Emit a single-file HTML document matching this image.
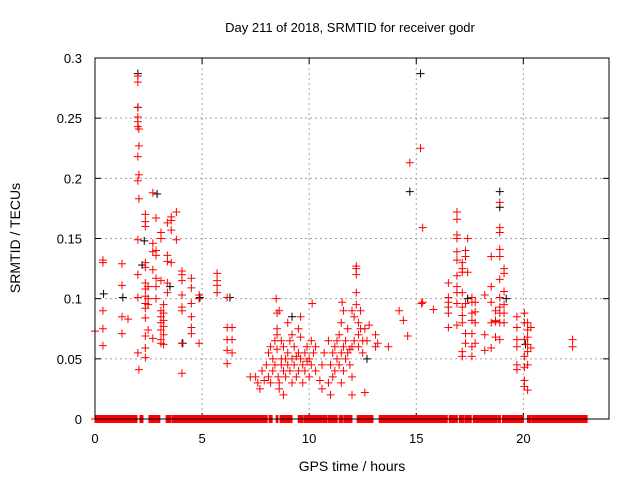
<!DOCTYPE html>
<html><head><meta charset="utf-8"><style>
body{margin:0;background:#fff}
svg{display:block;font-family:"Liberation Sans",sans-serif}
</style></head><body>
<svg id="chart" width="640" height="480" xmlns="http://www.w3.org/2000/svg">
<rect width="640" height="480" fill="#fff"/>
<text x="350" y="32" font-size="13" text-anchor="middle">Day 211 of 2018, SRMTID for receiver godr</text>
<text x="352" y="471" font-size="14" text-anchor="middle">GPS time / hours</text>
<text transform="translate(20,238) rotate(-90)" font-size="14" text-anchor="middle">SRMTID / TECUs</text>
<g id="grid"></g><g id="ticks"></g><g id="black"></g><g id="red"></g>
<rect x="95" y="58" width="514" height="361" fill="none" stroke="#000" stroke-width="1"/>
</svg>
<script>
const xTicks=[0,5,10,15,20];
const yTicks=[0,0.05,0.1,0.15,0.2,0.25,0.3];
const yTickLabels=["0","0.05","0.1","0.15","0.2","0.25","0.3"];
const zeroSegments=[[0,1.96],[2.1,2.24],[2.52,2.8],[2.85,3.04],[3.32,3.55],[3.6,8.04],[8.13,8.27],[8.46,8.55],[8.64,9.21],[9.49,9.72],[9.77,10.61],[10.65,10.84],[10.89,11.31],[11.4,11.59],[11.64,12.01],[12.24,12.99],[13.27,16.45],[16.54,16.92],[17.01,17.24],[17.29,17.57],[17.66,18.79],[18.83,18.93],[19.02,20.0],[20.19,20.37],[20.42,22.99]];
const blackPts=[[2.0,0.287],[2.0,0.259],[2.9,0.187],[2.3,0.148],[14.7,0.189],[15.2,0.287],[18.9,0.189],[18.9,0.176],[6.3,0.101],[0.4,0.104],[1.3,0.101],[4.1,0.063],[4.9,0.101],[2.2,0.128],[3.5,0.11],[19.2,0.1],[12.7,0.05],[9.2,0.085],[17.4,0.1],[20.1,0.062]];
const redPts=[[0,0.073],[0.37,0.132],[0.37,0.13],[0.37,0.09],[0.37,0.075],[0.37,0.061],[1.26,0.129],[1.26,0.111],[1.26,0.085],[1.26,0.071],[1.54,0.083],
[2.0,0.285],[2.0,0.28],[2.0,0.259],[2.0,0.251],[2.0,0.247],[2.0,0.243],[2.05,0.241],[2.05,0.227],[2.0,0.218],[2.05,0.203],[2.0,0.198],[2.05,0.183],[2.0,0.149],[2.0,0.12],[2.0,0.101],[2.0,0.055],[2.05,0.041],
[2.35,0.17],[2.35,0.164],[2.35,0.16],[2.35,0.13],[2.35,0.126],[2.35,0.113],[2.35,0.108],[2.35,0.102],[2.35,0.096],[2.35,0.092],[2.35,0.084],[2.35,0.069],[2.35,0.059],[2.35,0.051],
[2.48,0.11],[2.48,0.1],[2.48,0.095],[2.48,0.074],[2.7,0.188],[2.7,0.146],[2.7,0.139],[2.7,0.124],[2.7,0.067],
[2.85,0.167],[2.85,0.14],[2.85,0.136],[2.85,0.117],[2.85,0.11],[2.85,0.1],[3.08,0.155],[3.08,0.15],[3.08,0.115],[3.08,0.09],[3.08,0.085],[3.08,0.08],[3.08,0.074],[3.08,0.066],[3.08,0.063],
[3.2,0.095],[3.2,0.088],[3.2,0.082],[3.2,0.077],[3.2,0.07],[3.2,0.062],[3.38,0.163],[3.38,0.136],[3.38,0.131],[3.38,0.113],[3.38,0.105],[3.56,0.168],[3.56,0.165],[3.56,0.157],[3.56,0.13],
[3.8,0.172],[3.8,0.149],[4.06,0.123],[4.06,0.12],[4.06,0.115],[4.06,0.103],[4.06,0.093],[4.06,0.09],[4.06,0.063],[4.06,0.038],
[4.5,0.117],[4.5,0.109],[4.5,0.096],[4.5,0.085],[4.5,0.076],[4.5,0.071],[4.86,0.103],[4.86,0.1],[4.86,0.063],
[5.7,0.121],[5.7,0.115],[5.7,0.111],[5.7,0.105],[6.17,0.101],[6.17,0.076],[6.17,0.066],[6.17,0.057],[6.17,0.046],[6.4,0.076],[6.4,0.066],[6.4,0.055],[7.25,0.035],
[7.5,0.035],[7.6,0.03],[7.7,0.025],[7.8,0.04],[7.9,0.032],[8.0,0.045],[8.1,0.055],[8.1,0.035],[8.2,0.06],[8.2,0.03],[8.3,0.05],[8.3,0.04],[8.4,0.065],[8.4,0.045],[8.46,0.1],[8.5,0.088],[8.5,0.075],[8.5,0.07],[8.5,0.058],[8.55,0.035],[8.6,0.09],[8.6,0.03],[8.6,0.025],[8.7,0.05],[8.7,0.065],[8.7,0.045],[8.8,0.04],[8.8,0.06],[8.8,0.02],[8.9,0.05],[8.9,0.035],[9.0,0.055],[9.0,0.045],[9.0,0.08],[9.1,0.04],[9.1,0.065],[9.2,0.07],[9.2,0.05],[9.2,0.03],[9.3,0.045],[9.3,0.06],[9.4,0.052],[9.4,0.035],[9.5,0.075],[9.5,0.055],[9.5,0.04],[9.6,0.085],[9.6,0.05],[9.6,0.068],[9.7,0.045],[9.7,0.03],[9.8,0.055],[9.8,0.04],[9.9,0.06],[9.9,0.048],[10.0,0.05],[10.0,0.035],[10.1,0.065],[10.1,0.045],[10.14,0.096],[10.2,0.055],[10.3,0.04],[10.3,0.06],[10.5,0.032],[10.6,0.045],[10.7,0.055],[10.9,0.03],[10.6,0.025],
[11.0,0.045],[11.1,0.055],[11.1,0.035],[11.2,0.06],[11.2,0.04],[11.3,0.05],[11.3,0.065],[11.4,0.07],[11.4,0.045],[11.5,0.055],[11.5,0.08],[11.5,0.03],[11.54,0.097],[11.6,0.09],[11.6,0.06],[11.6,0.04],[11.7,0.065],[11.7,0.05],[11.8,0.075],[11.8,0.055],[11.9,0.058],[11.9,0.045],[12.0,0.06],[12.0,0.09],[12.0,0.02],[12.1,0.085],[12.1,0.065],[12.2,0.127],[12.2,0.125],[12.2,0.12],[12.2,0.105],[12.2,0.095],[12.3,0.08],[12.3,0.07],[12.3,0.06],[12.4,0.09],[12.4,0.075],[12.5,0.065],[12.5,0.055],[12.6,0.075],[12.7,0.065],[12.8,0.078],[12.6,0.022],[11.0,0.02],[10.9,0.065],[12.0,0.035],
[13.1,0.07],[13.1,0.06],[13.2,0.063],[13.7,0.06],[14.2,0.09],[14.4,0.082],[14.6,0.069],[14.7,0.213],[15.2,0.225],[15.3,0.159],[15.25,0.096],[15.3,0.097],[15.8,0.091],
[16.5,0.113],[16.5,0.101],[16.5,0.097],[16.5,0.093],[16.5,0.088],[16.5,0.076],[16.9,0.172],[16.9,0.166],[16.9,0.153],[16.9,0.15],[16.9,0.139],[16.9,0.132],[16.9,0.119],[16.9,0.11],[16.9,0.105],[16.9,0.096],[16.9,0.078],
[17.15,0.13],[17.15,0.125],[17.15,0.122],[17.15,0.105],[17.15,0.093],[17.15,0.086],[17.15,0.08],[17.15,0.056],[17.15,0.052],[17.3,0.14],[17.3,0.135],[17.3,0.096],[17.3,0.071],[17.3,0.063],[17.4,0.15],[17.4,0.122],
[17.6,0.101],[17.6,0.097],[17.6,0.088],[17.6,0.082],[17.6,0.071],[17.6,0.06],[17.6,0.052],[17.75,0.097],[17.75,0.089],[17.75,0.08],[17.75,0.063],[18.2,0.103],[18.2,0.07],[18.2,0.057],
[18.5,0.135],[18.5,0.11],[18.5,0.097],[18.5,0.08],[18.5,0.059],[18.7,0.09],[18.7,0.082],[18.7,0.081],[18.7,0.068],[18.9,0.18],[18.9,0.159],[18.9,0.155],[18.9,0.141],[18.9,0.135],[18.9,0.116],[18.9,0.101],[18.9,0.093],[18.9,0.088],[18.9,0.08],[18.9,0.066],
[19.1,0.125],[19.1,0.121],[19.1,0.106],[19.1,0.095],[19.1,0.088],[19.1,0.08],[19.7,0.085],[19.7,0.076],[19.7,0.066],[19.7,0.06],[19.7,0.045],[19.7,0.041],
[20.05,0.088],[20.05,0.08],[20.05,0.066],[20.05,0.052],[20.05,0.043],[20.05,0.032],[20.05,0.027],[20.2,0.08],[20.2,0.074],[20.2,0.068],[20.2,0.062],[20.2,0.056],[20.2,0.045],[20.2,0.024],[20.35,0.076],[20.35,0.059],[22.3,0.066],[22.3,0.06]];
const X0=95,X1=609,Y0=419,Y1=58;
const xs=h=>X0+h*(X1-X0)/24;
const ys=v=>Y0-v*(Y0-Y1)/0.3;
const NS="http://www.w3.org/2000/svg";
function mk(t,parent,attrs){const e=document.createElementNS(NS,t);for(const k in attrs)e.setAttribute(k,attrs[k]);parent.appendChild(e);return e;}
const grid=document.getElementById('grid'),ticks=document.getElementById('ticks');
xTicks.forEach((t,i)=>{const x=xs(t);
 if(t>0){const g=mk('line',grid,{x1:x,x2:x,y1:Y1,y2:Y0,stroke:'#a0a0a0','stroke-dasharray':'2,3'});
 
 }
 mk('line',ticks,{x1:x,x2:x,y1:Y0,y2:Y0-6,stroke:'#000'});mk('line',ticks,{x1:x,x2:x,y1:Y1,y2:Y1+6,stroke:'#000'});
 const l=mk('text',ticks,{x:x,y:443,'font-size':13,'text-anchor':'middle'});l.textContent=String(t);
 
 });
yTicks.forEach((t,i)=>{const y=ys(t);
 if(t>0&&t<0.3){const g=mk('line',grid,{x1:X0,x2:X1,y1:y,y2:y,stroke:'#a0a0a0','stroke-dasharray':'2,3'});
 
 }
 mk('line',ticks,{x1:X0,x2:X0+6,y1:y,y2:y,stroke:'#000'});mk('line',ticks,{x1:X1,x2:X1-6,y1:y,y2:y,stroke:'#000'});
 const l=mk('text',ticks,{x:82,y:y+5,'font-size':13,'text-anchor':'end'});l.textContent=yTickLabels[i];
 
 });
function plus(g,h,v,c,name){const x=xs(h),y=ys(v);
 const p=mk('path',g,{d:`M${x-4},${y}h8M${x},${y-4}v8`,stroke:c,'stroke-width':1,fill:'none'});
 
 }
const bg=document.getElementById('black'),rg=document.getElementById('red');
blackPts.forEach(p=>plus(bg,p[0],p[1],'#000','black-point'));
redPts.forEach(p=>plus(rg,p[0],p[1],'#f00','red-point'));
zeroSegments.forEach(s=>{for(let h=s[0];h<=s[1]+1e-9;h+=0.02)plus(rg,h,0,'#f00','zero-point');});
</script>
</body></html>
